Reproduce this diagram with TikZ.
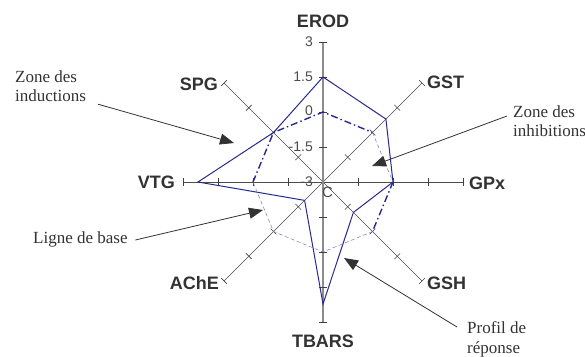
\documentclass[tikz,border=0pt]{standalone}
\usepackage{fontspec}
\setmainfont{Liberation Serif}
\newfontfamily\arialfont{Liberation Sans}
\usetikzlibrary{arrows.meta}

\definecolor{perfil}{RGB}{40,40,145}
\definecolor{basecl}{RGB}{120,120,190}
\definecolor{texto}{RGB}{50,50,50}

\tikzset{
  eje/.style={draw=black!70, line width=0.7pt},
  ejevert/.style={draw=black!45, line width=1.5pt},
  marca/.style={draw=black!75, line width=0.7pt},
  etiq/.style={font=\arialfont\bfseries\fontsize{18}{21}\selectfont, text=texto, inner sep=0pt},
  valor/.style={font=\arialfont\fontsize{14}{16}\selectfont, text=black!70, inner sep=0pt, anchor=east},
  nota/.style={font=\fontsize{17}{19.5}\selectfont, text=texto, align=left, inner sep=0pt},
  flecha/.style={draw=texto, line width=0.8pt, -{Triangle[length=14pt,width=11pt]}},
  respuesta/.style={draw=perfil, line width=1pt},
  basedd/.style={draw=perfil, line width=1.4pt, dash pattern=on 7pt off 3pt on 1.5pt off 3pt},
  baseli/.style={draw=basecl, line width=0.5pt, dash pattern=on 4pt off 2.5pt}
}

\begin{document}
\begin{tikzpicture}[x=1pt, y=1pt]
  \useasboundingbox (-323,-174) rectangle (262,182);
  \coordinate (O) at (0,0);

  % Ejes
  \foreach \ang in {0,45,135,180,225,315}
    \draw[eje] (O) -- (\ang:140);
  \draw[ejevert] (90:140) -- (270:140);

  % Marcas sobre los ejes
  \foreach \ang in {0,45,...,315}
    \foreach \r in {35,70,105,140}
      \draw[marca, rotate=\ang] (\r,-4) -- (\r,4);

  % Valores del eje vertical
  \node[valor] (v3) at (-10,140) {3};
  \node[valor] (v15) at (-10,105) {1.5};
  \node[valor] (v0) at (-10,71) {0};
  \node[valor] (vm15) at (-10,35) {-1.5};
  \node[valor] (vm3) at (-10,0) {-3};
  \node[valor, anchor=center, font=\arialfont\fontsize{15}{17}\selectfont] (c) at (4.5,-10.5) {C};

  % Nombres de los ejes
  \node[etiq] (lEROD) at (0,160.5) {EROD};
  \node[etiq, anchor=west] (lGST) at (104,100) {GST};
  \node[etiq, anchor=west] (lGPx) at (146,-1) {GPx};
  \node[etiq, anchor=west] (lGSH) at (104,-101.5) {GSH};
  \node[etiq] (lTBARS) at (0,-159.5) {TBARS};
  \node[etiq, anchor=east] (lAChE) at (-104,-101) {AChE};
  \node[etiq, anchor=east] (lVTG) at (-148,0) {VTG};
  \node[etiq, anchor=east] (lSPG) at (-105,98) {SPG};

  % Perfil de respuesta
  \draw[respuesta] (90:105) -- (45:89) -- (0:70) -- (-45:43) -- (-90:122)
    -- (-135:26) -- (180:125) -- (135:70) -- cycle;

  % Linea de base
  \draw[basedd] (180:70) -- (135:70) -- (90:70) -- (45:70);
  \draw[basedd] (0:70) -- (-45:70);
  \draw[baseli] (45:70) -- (0:70);
  \draw[baseli] (-45:70) -- (-90:70) -- (-135:70) -- (180:70);

  % Textos y flechas
  \node[nota, anchor=north west] (induc) at (-308,111.6) {Zone des\\inductions};
  \node[nota, anchor=north west] (inhib) at (190,76.6) {Zone des\\inhibitions};
  \node[nota, anchor=base west] (ligne) at (-290,-61) {Ligne de base};
  \node[nota, anchor=north west] (profil) at (144,-139.4) {Profil de\\réponse};

  \coordinate (inducFin) at (-89,39);
  \coordinate (inhibFin) at (49,16);
  \coordinate (ligneFin) at (-60,-28);
  \coordinate (profilFin) at (21,-76);

  \draw[flecha] ([shift={(12,-2)}]induc.south east) -- (inducFin);
  \draw[flecha] ([shift={(-6,-10.6)}]inhib.north west) -- (inhibFin);
  \draw[flecha] ([shift={(7.6,3)}]ligne.base east) -- (ligneFin);
  \draw[flecha] ([shift={(-10,-5.6)}]profil.north west) -- (profilFin);
\end{tikzpicture}
\end{document}
